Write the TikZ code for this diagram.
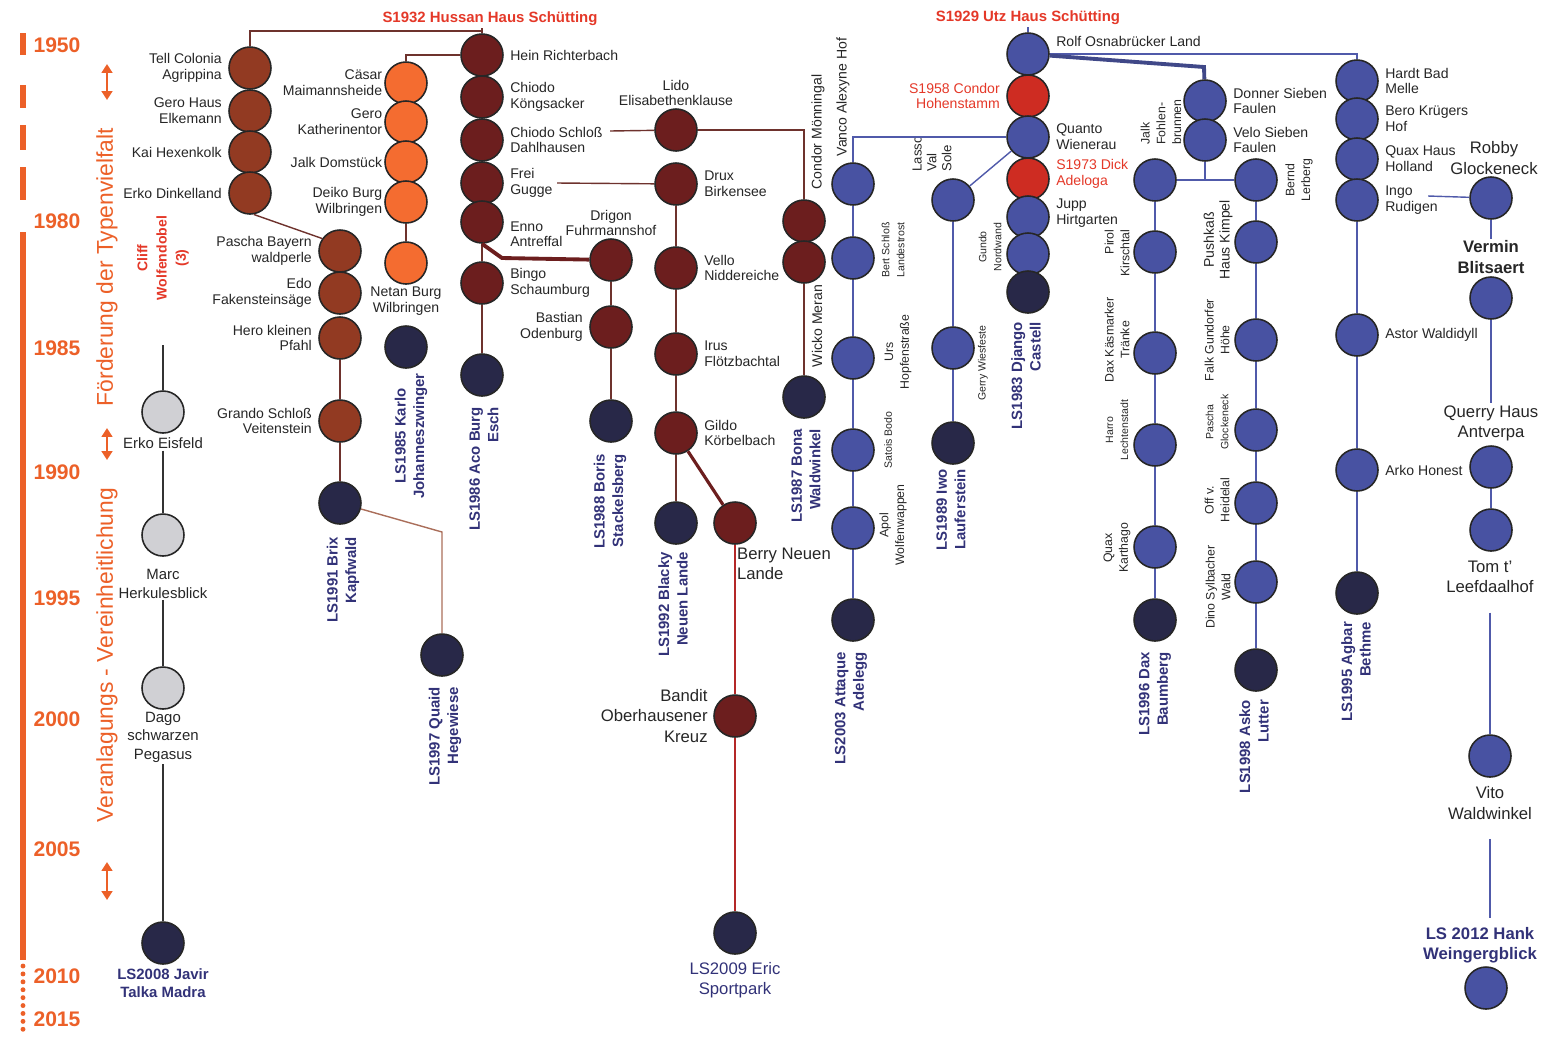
\documentclass[tikz,border=0pt]{standalone}
\usepackage{fontspec}
\setmainfont{Liberation Sans}
\usetikzlibrary{arrows.meta,positioning}

\definecolor{axisorange}{RGB}{236,96,40}
\definecolor{brwn}{RGB}{146,58,34}
\definecolor{orng}{RGB}{244,108,48}
\definecolor{mrn}{RGB}{108,30,30}
\definecolor{nvy}{RGB}{40,40,72}
\definecolor{blu}{RGB}{72,82,162}
\definecolor{rdd}{RGB}{206,44,34}
\definecolor{gry}{RGB}{208,208,212}
\definecolor{lsblue}{RGB}{50,50,120}
\definecolor{brline}{RGB}{110,50,45}
\definecolor{ltbrline}{RGB}{170,110,90}
\definecolor{rdline}{RGB}{180,40,40}
\definecolor{blline}{RGB}{80,90,170}
\definecolor{redtxt}{RGB}{228,56,40}

\tikzset{
  ball/.style={circle, draw=black!85, line width=0.9pt, minimum size=0.84cm, inner sep=0pt},
  brdot/.style={ball, fill=brwn},
  ordot/.style={ball, fill=orng},
  mrdot/.style={ball, fill=mrn},
  nvdot/.style={ball, fill=nvy},
  bldot/.style={ball, fill=blu},
  rddot/.style={ball, fill=rdd},
  grdot/.style={ball, fill=gry},
  lbl/.style={font=\fontsize{8}{9}\selectfont, inner sep=1pt, text=black!85},
  lbll/.style={lbl, align=right, label distance=2.5pt},
  lblr/.style={lbl, align=left, label distance=2.5pt},
  glbl/.style={font=\fontsize{8.5}{10.5}\selectfont, inner sep=1pt, text=black!85, align=center},
  rlbl/.style={font=\fontsize{7}{9}\selectfont, inner sep=1pt, rotate=90, text=black!85, align=center},
  rlbls/.style={rlbl, font=\fontsize{6}{8.5}\selectfont},
  rlblb/.style={rlbl, font=\fontsize{8}{9}\selectfont},
  lslbl/.style={font=\fontsize{8.5}{10.5}\selectfont\bfseries, inner sep=1pt, rotate=90, text=lsblue, align=right, anchor=east},
  lsflat/.style={font=\fontsize{8.5}{10}\selectfont\bfseries, inner sep=1pt, text=lsblue, align=center},
  biglbl/.style={font=\fontsize{9.5}{11.5}\selectfont, inner sep=1pt, text=black!85, align=center},
  redlbl/.style={font=\fontsize{8.5}{10}\selectfont\bfseries, text=redtxt, inner sep=1pt},
  year/.style={font=\fontsize{12}{14}\selectfont\bfseries, text=axisorange},
  axtxt/.style={font=\fontsize{13}{15}\selectfont, text=axisorange, rotate=90},
  cliff/.style={font=\fontsize{8}{11}\selectfont\bfseries, text=redtxt, rotate=90, align=center},
  axisbar/.style={draw=axisorange, line width=3pt},
  axisdots/.style={draw=axisorange, line width=2.8pt, line cap=round, dash pattern=on 0pt off 4.5pt},
  axarrow/.style={{Triangle[width=6pt,length=5pt]}-{Triangle[width=6pt,length=5pt]}, draw=axisorange, line width=1.3pt},
  brlink/.style={draw=brline, line width=0.8pt},
  ltlink/.style={draw=ltbrline, line width=0.8pt},
  rdlink/.style={draw=rdline, line width=1pt},
  thkbr/.style={draw=mrn, line width=2.2pt},
  bllink/.style={draw=blline, line width=0.8pt},
  thkbl/.style={draw=blline!80!black, line width=2.2pt},
  bklink/.style={draw=black!80, line width=0.8pt}
}

\begin{document}
\begin{tikzpicture}[x=0.02cm, y=-0.02cm]
\useasboundingbox (0,0) rectangle (1550,1039);

% time axis
\foreach \a/\b in {33/55,85/108,125/150,167/200}
  \draw[axisbar] (23,\a) -- (23,\b);
\draw[axisbar] (23,232) -- (23,960);
\draw[axisdots] (23,966) -- (23,1030);
\foreach \yr/\y in {1950/45,1980/221,1985/348,1990/472,1995/598,2000/719,2005/849,2010/976,2015/1019}
  \node[year] (y\yr) at (57,\y) {\yr};
\node[axtxt] (foerd) at (107,267) {Förderung der Typenvielfalt};
\node[axtxt] (veran) at (107,655) {Veranlagungs - Vereinheitlichung};
\foreach \a/\b in {64/100,428/460,862/900}
  \draw[axarrow] (107,\a) -- (107,\b);
\node[cliff] (cliff) at (163,258) {Cliff\\Wolfendobel\\(3)};

% grey line
\coordinate (gtop) at (163,345);
\node[grdot] (erkoe) at (163,412) {};
\node[glbl, below=1pt of erkoe] (erkoelbl) {Erko Eisfeld};
\node[grdot] (marc) at (163,535) {};
\node[glbl, below=6pt of marc] (marclbl) {Marc\\Herkulesblick};
\node[grdot] (dago) at (163,688) {};
\node[glbl, below=0pt of dago] (dagolbl) {Dago\\schwarzen\\Pegasus};
\node[nvdot] (javir) at (163,943) {};
\node[lsflat, below=1pt of javir] (javirlbl) {LS2008 Javir\\Talka Madra};
\draw[bklink] (gtop) -- (erkoe);
\draw[bklink] (erkoelbl) -- (marc);
\draw[bklink] (marclbl) -- (dago);
\draw[bklink] (dagolbl) -- (javir);

% Hussan Haus Schuetting
\foreach \n/\y/\t in {tell/68/{Tell Colonia\\Agrippina},gerh/111/{Gero Haus\\Elkemann},kai/152/{Kai Hexenkolk},erkod/193/{Erko Dinkelland}}
  \node[brdot, label={[lbll]left:\t}] (\n) at (250,\y) {};
\foreach \n/\y/\t in {pascha/251/{Pascha Bayern\\waldperle},edo/293/{Edo\\Fakensteinsäge},hero/338/{Hero kleinen\\Pfahl},grando/421/{Grando Schloß\\Veitenstein}}
  \node[brdot, label={[lbll]left:\t}] (\n) at (340,\y) {};
\node[nvdot] (brix) at (340,503) {};
\node[lslbl] (brixlbl) at (343,535) {LS1991 Brix\\Kapfwald};
\node[nvdot] (quaid) at (442,655) {};
\node[lslbl] (quaidlbl) at (445,685) {LS1997 Quaid\\Hegewiese};
\coordinate (qbend) at (442,532);

\foreach \n/\y/\t in {caesar/83/{Cäsar\\Maimannsheide},gerok/122/{Gero\\Katherinentor},jalkd/162/{Jalk Domstück},deiko/202/{Deiko Burg\\Wilbringen}}
  \node[ordot, label={[lbll, label distance=0pt]left:\t}] (\n) at (406,\y) {};
\node[ordot] (netan) at (406,263) {};
\node[lbl, align=center, below=0pt of netan] (netanlbl) {Netan Burg\\Wilbringen};
\node[nvdot] (karlo) at (406,347) {};
\node[lslbl, align=center, anchor=center] (karlolbl) at (411,436) {LS1985 Karlo\\Johanneszwinger};

\foreach \n/\y/\t in {hein/55/{Hein Richterbach},chiodok/97/{Chiodo\\Köngsacker},chiodos/140/{Chiodo Schloß\\Dahlhausen},frei/183/{Frei\\Gugge},bingo/283/{Bingo\\Schaumburg}}
  \node[mrdot, label={[lblr]right:\t}] (\n) at (482,\y) {};
\node[mrdot, label={[lblr, yshift=-7pt]right:Enno\\Antreffal}] (enno) at (482,222) {};
\node[nvdot] (aco) at (482,375) {};
\node[lslbl] (acolbl) at (484,405) {LS1986 Aco Burg\\Esch};
\node[redlbl] (hussanlbl) at (490,19) {S1932 Hussan Haus Schütting};
\coordinate (hussanpt) at (482,31);

\node[mrdot] (drigon) at (611,260) {};
\node[lbl, align=center, above=0pt of drigon] (drigonlbl) {Drigon\\Fuhrmannshof};
\node[mrdot, label={[lbll]left:Bastian\\Odenburg}] (bastian) at (611,327) {};
\node[nvdot] (boris) at (611,421) {};
\node[lslbl] (borislbl) at (610,452) {LS1988 Boris\\Stackelsberg};
\coordinate (ebend) at (502,258);

\node[mrdot] (lido) at (676,130) {};
\node[lbl, align=center, above=0pt of lido] (lidolbl) {Lido\\Elisabethenklause};
\foreach \n/\y/\t in {drux/184/{Drux\\Birkensee},vello/268/{Vello\\Niddereiche},irus/354/{Irus\\Flötzbachtal},gildo/433/{Gildo\\Körbelbach}}
  \node[mrdot, label={[lblr]right:\t}] (\n) at (676,\y) {};
\node[nvdot] (blacky) at (676,523) {};
\node[lslbl] (blackylbl) at (673,550) {LS1992 Blacky\\Neuen Lande};
\coordinate (csend) at (610,131);
\coordinate (fgend) at (557,183);

\node[mrdot] (berry) at (735,523) {};
\node[biglbl, anchor=north west, align=left] (berrylbl) at (735,546) {Berry Neuen\\Lande};
\node[mrdot, label={[biglbl, align=right, label distance=2pt]left:Bandit\\Oberhausener\\Kreuz}] (bandit) at (735,716) {};
\node[nvdot] (eric) at (735,933) {};
\node[biglbl, text=lsblue, below=3pt of eric] (ericlbl) {LS2009 Eric\\Sportpark};

\node[mrdot] (condor) at (804,221) {};
\node[mrdot] (wicko) at (804,262) {};
\node[nvdot] (bona) at (804,397) {};
\node[rlblb] (condorlbl) at (818,132) {Condor Mönningal};
\node[rlblb] (vancolbl) at (843,97) {Vanco Alexyne Hof};
\node[rlblb] (wickolbl) at (817,326) {Wicko Meran};
\node[lslbl] (bonalbl) at (806,427) {LS1987 Bona\\Waldwinkel};

% Utz Haus Schuetting
\node[redlbl] (utzlbl) at (1028,18) {S1929 Utz Haus Schütting};
\node[bldot, label={[lblr, yshift=7pt]right:Rolf Osnabrücker Land}] (rolf) at (1028,54) {};
\node[rddot, label={[lbll, text=redtxt]left:S1958 Condor\\Hohenstamm}] (condorh) at (1028,96) {};
\node[bldot, label={[lblr]right:Quanto\\Wienerau}] (quanto) at (1028,137) {};
\node[rddot, label={[lblr, text=redtxt, yshift=3pt]right:S1973 Dick\\Adeloga}] (dick) at (1028,179) {};
\node[bldot, label={[lblr, yshift=2pt]right:Jupp\\Hirtgarten}] (jupp) at (1028,217) {};
\node[bldot] (gundo) at (1028,254) {};
\node[nvdot] (django) at (1028,292) {};
\node[rlbls] (gundolbl) at (990,247) {Gundo\\Nordwand};
\node[lslbl] (djangolbl) at (1026,320) {LS1983 Django\\Castell};

\foreach \n/\y in {vanco/184,bert/258,urs/358,satois/450,apol/528}
  \node[bldot] (\n) at (853,\y) {};
\node[nvdot] (attaque) at (853,620) {};
\node[lslbl] (attaquelbl) at (851,650) {LS2003 Attaque\\Adelegg};
\node[rlbls] (bertlbl) at (893,250) {Bert Schloß\\Landestrost};
\node[rlbl] (urslbl) at (898,352) {Urs\\Hopfenstraße};
\node[rlbls] (satoislbl) at (888,440) {Satois Bodo};
\node[rlbl] (apollbl) at (893,525) {Apol\\Wolfenwappen};

\node[bldot] (lasso) at (953,200) {};
\node[bldot] (gerry) at (953,348) {};
\node[nvdot] (iwo) at (953,443) {};
\node[rlblb, align=left, font=\fontsize{7.5}{8.5}\selectfont] (lassolbl) at (932,154) {Lasso\\Val\\Sole};
\node[rlbls] (gerrylbl) at (983,363) {Gerry Wiesfeste};
\node[lslbl] (iwolbl) at (951,467) {LS1989 Iwo\\Lauferstein};

\node[bldot, label={[lblr]right:Donner Sieben\\Faulen}] (donner) at (1205,101) {};
\node[bldot, label={[lblr]right:Velo Sieben\\Faulen}] (velo) at (1205,140) {};
\coordinate (jct) at (1205,180);
\coordinate (thkbend) at (1204,67);

\foreach \n/\y in {jalk/180,pirol/252,daxk/353,harro/445,quax/547}
  \node[bldot] (\n) at (1155,\y) {};
\node[nvdot] (daxb) at (1155,620) {};
\node[rlbl, align=left] (jalklbl) at (1161,122) {Jalk\\Fohlen-\\brunnen};
\node[rlbl, align=right] (pirollbl) at (1117,253) {Pirol\\Kirschtal};
\node[rlbl] (daxklbl) at (1117,340) {Dax Käsmarker\\Tränke};
\node[rlbls] (harrolbl) at (1117,430) {Harro\\Lechtenstadt};
\node[rlbl] (quaxlbl) at (1117,548) {Quax\\Karthago};
\node[lslbl] (daxblbl) at (1155,650) {LS1996 Dax\\Baumberg};

\foreach \n/\y in {bernd/180,pushk/242,falk/340,pascha2/430,offv/503,dino/582}
  \node[bldot] (\n) at (1256,\y) {};
\node[nvdot] (asko) at (1256,670) {};
\node[rlbl] (berndlbl) at (1299,180) {Bernd\\Lerberg};
\node[rlblb] (pushklbl) at (1218,240) {Pushkaß\\Haus Kimpel};
\node[rlbl] (falklbl) at (1217,340) {Falk Gundorfer\\Höhe};
\node[rlbls] (pascha2lbl) at (1217,422) {Pascha\\Glockeneck};
\node[rlbl] (offvlbl) at (1217,500) {Off v.\\Heidelal};
\node[rlbl] (dinolbl) at (1218,587) {Dino Sylbacher\\Wald};
\node[lslbl] (askolbl) at (1254,698) {LS1998 Asko\\Lutter};

\foreach \n/\y/\t in {hardt/81/{Hardt Bad\\Melle},bero/119/{Bero Krügers\\Hof},quaxh/159/{Quax Haus\\Holland},ingo/200/{Ingo\\Rudigen},astor/335/{Astor Waldidyll},arko/470/{Arko Honest}}
  \node[bldot, label={[lblr]right:\t}] (\n) at (1357,\y) {};
\node[nvdot] (agbar) at (1357,593) {};
\node[lslbl] (agbarlbl) at (1356,620) {LS1995 Agbar\\Bethme};

\node[biglbl] (robbylbl) at (1494,158) {Robby\\Glockeneck};
\node[bldot] (robby) at (1491,198) {};
\node[biglbl, font=\fontsize{9.5}{11.5}\selectfont\bfseries] (verminlbl) at (1491,257) {Vermin\\Blitsaert};
\node[bldot] (vermin) at (1491,298) {};
\node[biglbl] (querrylbl) at (1491,423) {Querry Haus\\Antverpa};
\node[bldot] (querry) at (1491,467) {};
\node[bldot] (tom) at (1491,530) {};
\node[biglbl] (tomlbl) at (1490,577) {Tom t'\\Leefdaalhof};
\node[bldot] (vito) at (1490,756) {};
\node[biglbl] (vitolbl) at (1490,803) {Vito\\Waldwinkel};
\node[biglbl, font=\fontsize{9.5}{11.5}\selectfont\bfseries, text=lsblue] (hanklbl) at (1480,945) {LS 2012 Hank\\Weingergblick};
\node[bldot] (hank) at (1486,988) {};
\coordinate (ingoend) at (1428,196);

% brown links
\draw[brlink] (tell) |- (hussanpt);
\draw[brlink] (hein.north) -- (hein.north |- hussanlbl.south);
\draw[brlink] (caesar.north) |- (hein);
\draw[brlink] (erkod.-80) -- (pascha.145);
\foreach \a/\b in {hero/grando,grando/brix,deiko/netan,enno/bingo,bingo/aco,drigon/bastian,bastian/boris,drux/vello,vello/irus,irus/gildo,gildo/blacky,wicko/bona}
  \draw[brlink] (\a) -- (\b);
\draw[ltlink] (brix) -- (qbend) -- (quaid);
\draw[thkbr] (enno.south) -- (ebend) -- (drigon);
\draw[brlink] (csend) -- (lido);
\draw[brlink] (fgend) -- (drux);
\draw[brlink] (lido) -| (condor);
\draw[thkbr, line width=1.8pt] (gildo) -- (berry);
\draw[rdlink] (berry) -- (bandit);
\draw[rdlink] (bandit) -- (eric);

% blue links
\draw[bllink] (rolf.north) -- (rolf.north |- utzlbl.south);
\draw[bllink] (rolf) -| (hardt);
\draw[thkbl] (rolf) -- (thkbend) -- (donner);
\draw[bllink] (quanto) -| (vanco);
\draw[bllink] (quanto) -- (lasso);
\draw[bllink] (velo) -- (jct);
\draw[bllink] (jalk) -- (bernd);
\foreach \a/\b in {vanco/bert,bert/urs,urs/satois,satois/apol,apol/attaque,lasso/gerry,gerry/iwo,jalk/pirol,pirol/daxk,daxk/harro,harro/quax,quax/daxb,bernd/pushk,pushk/falk,falk/pascha2,pascha2/offv,offv/dino,dino/asko,ingo/astor,astor/arko,arko/agbar}
  \draw[bllink] (\a) -- (\b);
\draw[bllink] (ingoend) -- (robby);
\draw[bllink] (robby) -- (verminlbl);
\draw[bllink] (vermin) -- (querrylbl);
\draw[bllink] (querry) -- (tom);
\draw[bllink, shorten <=10pt] (tomlbl) -- (vito);
\draw[bllink, shorten <=10pt, shorten >=4pt] (vitolbl.south) -- (vitolbl.south |- hanklbl.north);

\end{tikzpicture}
\end{document}
